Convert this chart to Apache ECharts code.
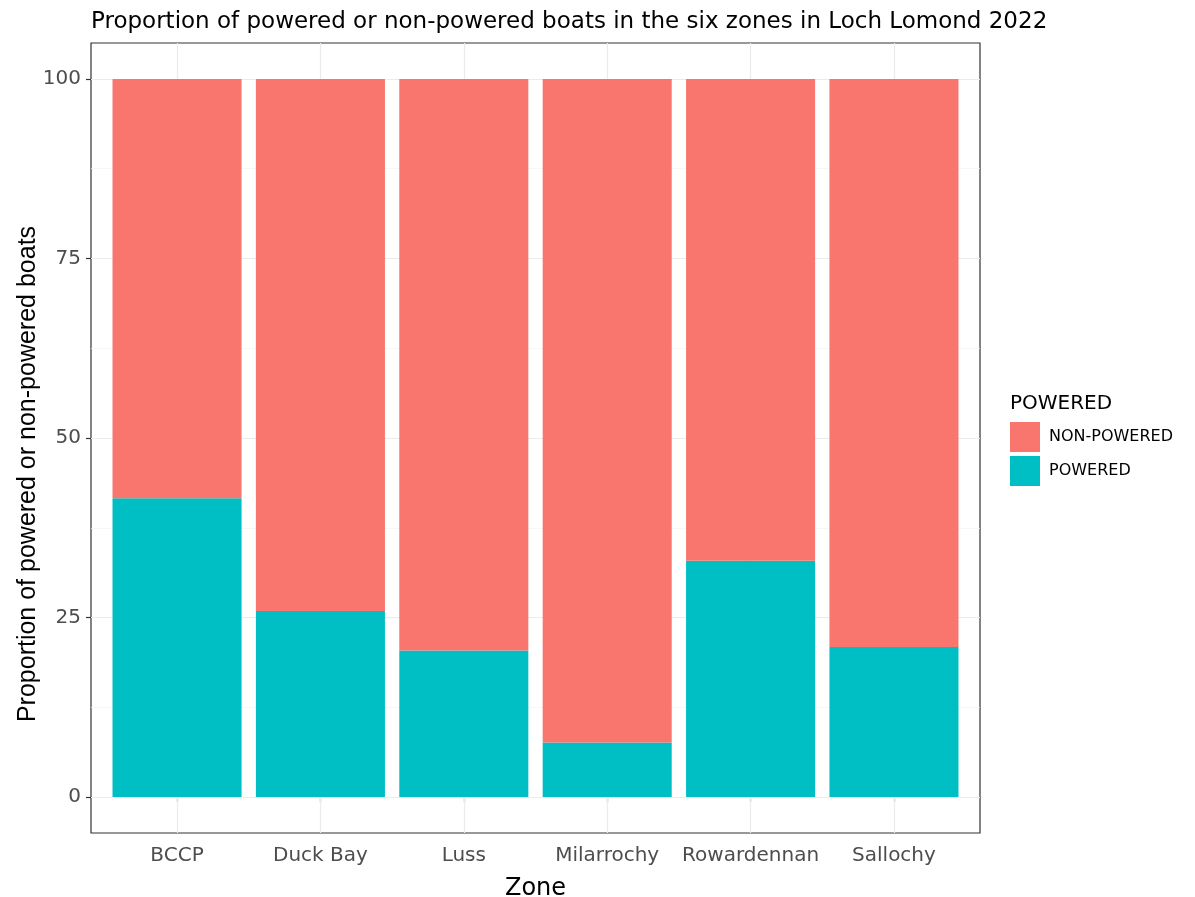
<!DOCTYPE html>
<html>
<head>
<meta charset="utf-8">
<script src="https://cdn.jsdelivr.net/npm/echarts@6/dist/echarts.min.js"></script>
<style>html,body{margin:0;padding:0;background:#fff;}#c{width:1195px;height:897px;}</style>
</head>
<body>
<div id="c"></div>
<script>
const zones = ['BCCP', 'Duck Bay', 'Luss', 'Milarrochy', 'Rowardennan', 'Sallochy'];
const powered = [41.6, 25.9, 20.4, 7.6, 32.9, 20.9];
const nonPowered = [58.4, 74.1, 79.6, 92.4, 67.1, 79.1];
const yTicks = [0, 25, 50, 75, 100];
const yMinorGrid = [12.5, 37.5, 62.5, 87.5];
const xGrid = [1, 2, 3, 4, 5, 6];

const FONT = 'DejaVu Sans, sans-serif';
const FONT2 = 'Liberation Sans, Arial, sans-serif';
const chart = echarts.init(document.getElementById('c'), null, {renderer: 'canvas'});

const panelL = 91, panelR = 980, panelT = 43, panelB = 833;
const band = (panelR - panelL) / 6.2;

const option = {
  backgroundColor: '#fff',
  animation: false,
  title: [
    {text: 'Proportion of powered or non-powered boats in the six zones in Loch Lomond 2022',
     left: 86, top: 6, textStyle: {fontFamily: FONT, fontWeight: 'normal', fontSize: 23, color: '#000'}},
    {text: 'POWERED', left: 1005, top: 389, textStyle: {fontFamily: FONT, fontWeight: 'normal', fontSize: 20, color: '#000'}}
  ],
  graphic: [
    {type: 'text', x: 28, y: 474, rotation: Math.PI / 2,
     style: {text: 'Proportion of powered or non-powered boats', fontFamily: FONT2, fontSize: 25, fill: '#000',
             align: 'center', verticalAlign: 'middle'}}
  ],
  legend: {
    orient: 'vertical', left: 1005, top: 417,
    itemWidth: 30, itemHeight: 30, itemGap: 4,
    icon: 'rect',
    data: ['NON-POWERED', 'POWERED'],
    textStyle: {fontFamily: FONT, fontSize: 16, color: '#000', padding: [0, 0, 0, 4]}
  },
  grid: [
    {left: panelL, right: 1195 - panelR, top: panelT, bottom: 897 - panelB, show: true, borderColor: '#333', borderWidth: 1.2, backgroundColor: '#fff', outerBoundsMode: 'none', containLabel: false},
    {left: panelL + 0.1 * band, right: 1195 - panelR + 0.1 * band, top: panelT, bottom: 897 - panelB, outerBoundsMode: 'none', containLabel: false}
  ],
  xAxis: [
    {gridIndex: 0, type: 'value', min: 0.4, max: 6.6, show: false},
    {gridIndex: 1, type: 'category', data: zones,
     axisLine: {show: false},
     axisTick: {show: true, alignWithLabel: true, length: 5, lineStyle: {color: '#333', width: 1.2}},
     axisLabel: {fontFamily: FONT, fontSize: 20, color: '#4D4D4D', margin: 13, interval: 0},
     splitLine: {show: false},
     name: 'Zone', nameLocation: 'middle', nameGap: 44,
     nameTextStyle: {fontFamily: FONT, fontSize: 24, color: '#000'}}
  ],
  yAxis: [
    {gridIndex: 0, type: 'value', min: -5, max: 105,
     axisLine: {show: false},
     axisTick: {show: true, length: 5, customValues: yTicks, lineStyle: {color: '#333', width: 1.2}},
     axisLabel: {fontFamily: FONT, fontSize: 20, color: '#4D4D4D', margin: 10, customValues: yTicks},
     splitLine: {show: false}},
    {gridIndex: 1, type: 'value', min: -5, max: 105, show: false, splitLine: {show: false}}
  ],
  series: [
    {type: 'line', xAxisIndex: 0, yAxisIndex: 0, data: [], silent: true, z: 1,
     markLine: {silent: true, symbol: 'none', label: {show: false}, animation: false, z: 1,
       data: [].concat(
         yTicks.map(v => ({yAxis: v, lineStyle: {color: '#EBEBEB', width: 1.2, type: 'solid'}})),
         yMinorGrid.map(v => ({yAxis: v, lineStyle: {color: '#F3F3F3', width: 0.7, type: 'solid'}})),
         xGrid.map(v => ({xAxis: v, lineStyle: {color: '#EBEBEB', width: 1.2, type: 'solid'}}))
       )}},
    {name: 'POWERED', type: 'bar', stack: 'p', xAxisIndex: 1, yAxisIndex: 1, data: powered,
     barWidth: '90%', itemStyle: {color: '#00BFC4'}, z: 3},
    {name: 'NON-POWERED', type: 'bar', stack: 'p', xAxisIndex: 1, yAxisIndex: 1, data: nonPowered,
     barWidth: '90%', itemStyle: {color: '#F8766D'}, z: 3}
  ]
};
chart.setOption(option);
</script>
</body>
</html>
